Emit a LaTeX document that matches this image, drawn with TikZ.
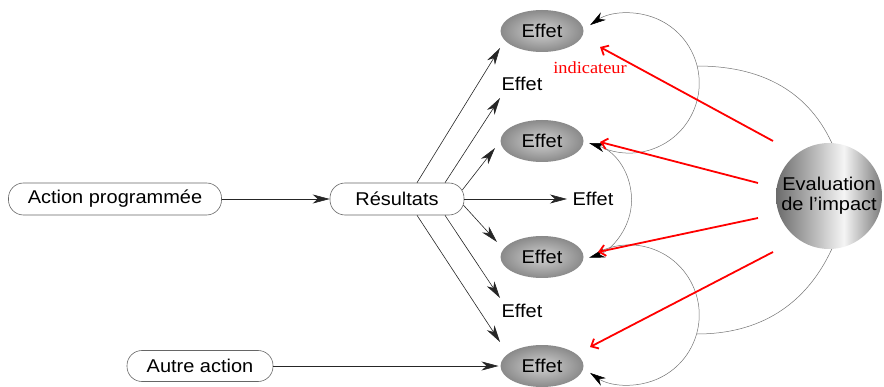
\documentclass[tikz,border=0pt]{standalone}
\usepackage{fontspec}
\setmainfont{Liberation Sans}[FakeStretch=1.08]
\newfontfamily\indfont{Liberation Serif}[FakeStretch=1.08]
\usetikzlibrary{arrows.meta,shapes.geometric}
\pgfdeclarehorizontalshading{evalshade}{100bp}{color(0bp)=(black!58); color(25bp)=(black!58); color(57bp)=(black!4); color(75bp)=(black!52); color(100bp)=(black!52)}

\begin{document}
\begin{tikzpicture}[x=1pt,y=1pt,
        every node/.style={font=\fontsize{18.5}{20}\selectfont},
        box/.style={draw=black!60, line width=0.6pt, rounded corners=15pt, minimum height=32pt},
        effet/.style={ellipse, inner color=black!18, outer color=black!46, minimum width=83pt, minimum height=42pt, inner sep=0pt, outer sep=2pt},
        arr/.style={-{Stealth[length=17pt,width=9pt,inset=5pt]}, line width=0.6pt, black!85},
        fb/.style={line width=0.5pt, black!55},
        fbtip/.style={fb, -{Stealth[length=16pt,width=9pt,inset=5pt,black]}},
        ind/.style={-{Straight Barb[length=6pt,width=11pt]}, red, line width=1.8pt}]
    \useasboundingbox (0,0) rectangle (884,386);

    % actions
    \node[box, minimum width=213pt] (act) at (115,187) {Action programmée};
    \node[box, minimum width=134pt] (res) at (397,187) {Résultats};
    \node[box, minimum width=146pt, minimum height=31pt] (autre) at (200,20) {Autre action};

    % effets
    \foreach \n/\y in {1/355,2/245,3/129,4/20}
        \node[effet] (E\n) at (542,\y) {Effet};
    \node (L1) at (522,302) {Effet};
    \node (L2) at (593,187) {Effet};
    \node (L3) at (522,75) {Effet};

    % evaluation
    \node[circle, shade, shading=evalshade, minimum size=106pt, inner sep=0pt, align=center] (eval) at (829,190) {Evaluation\\de l’impact};
    \node[text=red, font=\indfont\fontsize{17}{19}\selectfont] (indic) at (590,318) {indicateur};

    \draw[arr] (act) -- (res);
    \draw[arr] (autre) -- (E4);
    \draw[arr] ([xshift=20pt]res.north) -- ([shift={(-42,-17)}]E1.center);
    \draw[arr] ([xshift=48pt]res.north) -- ([shift={(-22,-14)}]L1.center);
    \draw[arr] ([shift={(-2,9)}]res.east) -- ([shift={(-47,-7)}]E2.center);
    \draw[arr] (res) -- ([xshift=-26pt]L2.center);
    \draw[arr] ([shift={(-1,-6)}]res.east) -- ([shift={(-45,15)}]E3.center);
    \draw[arr] ([xshift=48pt]res.south) -- ([shift={(-22,13)}]L3.center);
    \draw[arr] ([xshift=20pt]res.south) -- ([shift={(-42,24)}]E4.center);

    % retours
    \coordinate (upj) at (697,320);
    \coordinate (loj) at (697,52);
    \draw[fbtip] ([shift={(61,-7)}]E2.center) arc[start angle=-112, end angle=124, radius=70];
    \draw[fb, {Stealth[length=16pt,width=9pt,inset=5pt,black]}-{Stealth[length=16pt,width=9pt,inset=5pt,black]}]
        ([shift={(47,-2)}]E2.center) arc[start angle=73, end angle=-73, radius=60];
    \draw[fbtip] ([shift={(61,7)}]E3.center) arc[start angle=112, end angle=-124, radius=70];
    \draw[fb] (eval.87) to[out=115, in=0] (upj);
    \draw[fb] (eval.-87) to[out=-115, in=0] (loj);

    % indicateurs
    \draw[ind] ([shift={(-56,55)}]eval.center) -- ([shift={(58,-16)}]E1.center);
    \draw[ind] ([shift={(-71,13)}]eval.center) -- ([shift={(58,-1)}]E2.center);
    \draw[ind] ([shift={(-71,-22)}]eval.center) -- ([shift={(56,5)}]E3.center);
    \draw[ind] ([shift={(-56,-56)}]eval.center) -- ([shift={(48,19)}]E4.center);
\end{tikzpicture}
\end{document}
